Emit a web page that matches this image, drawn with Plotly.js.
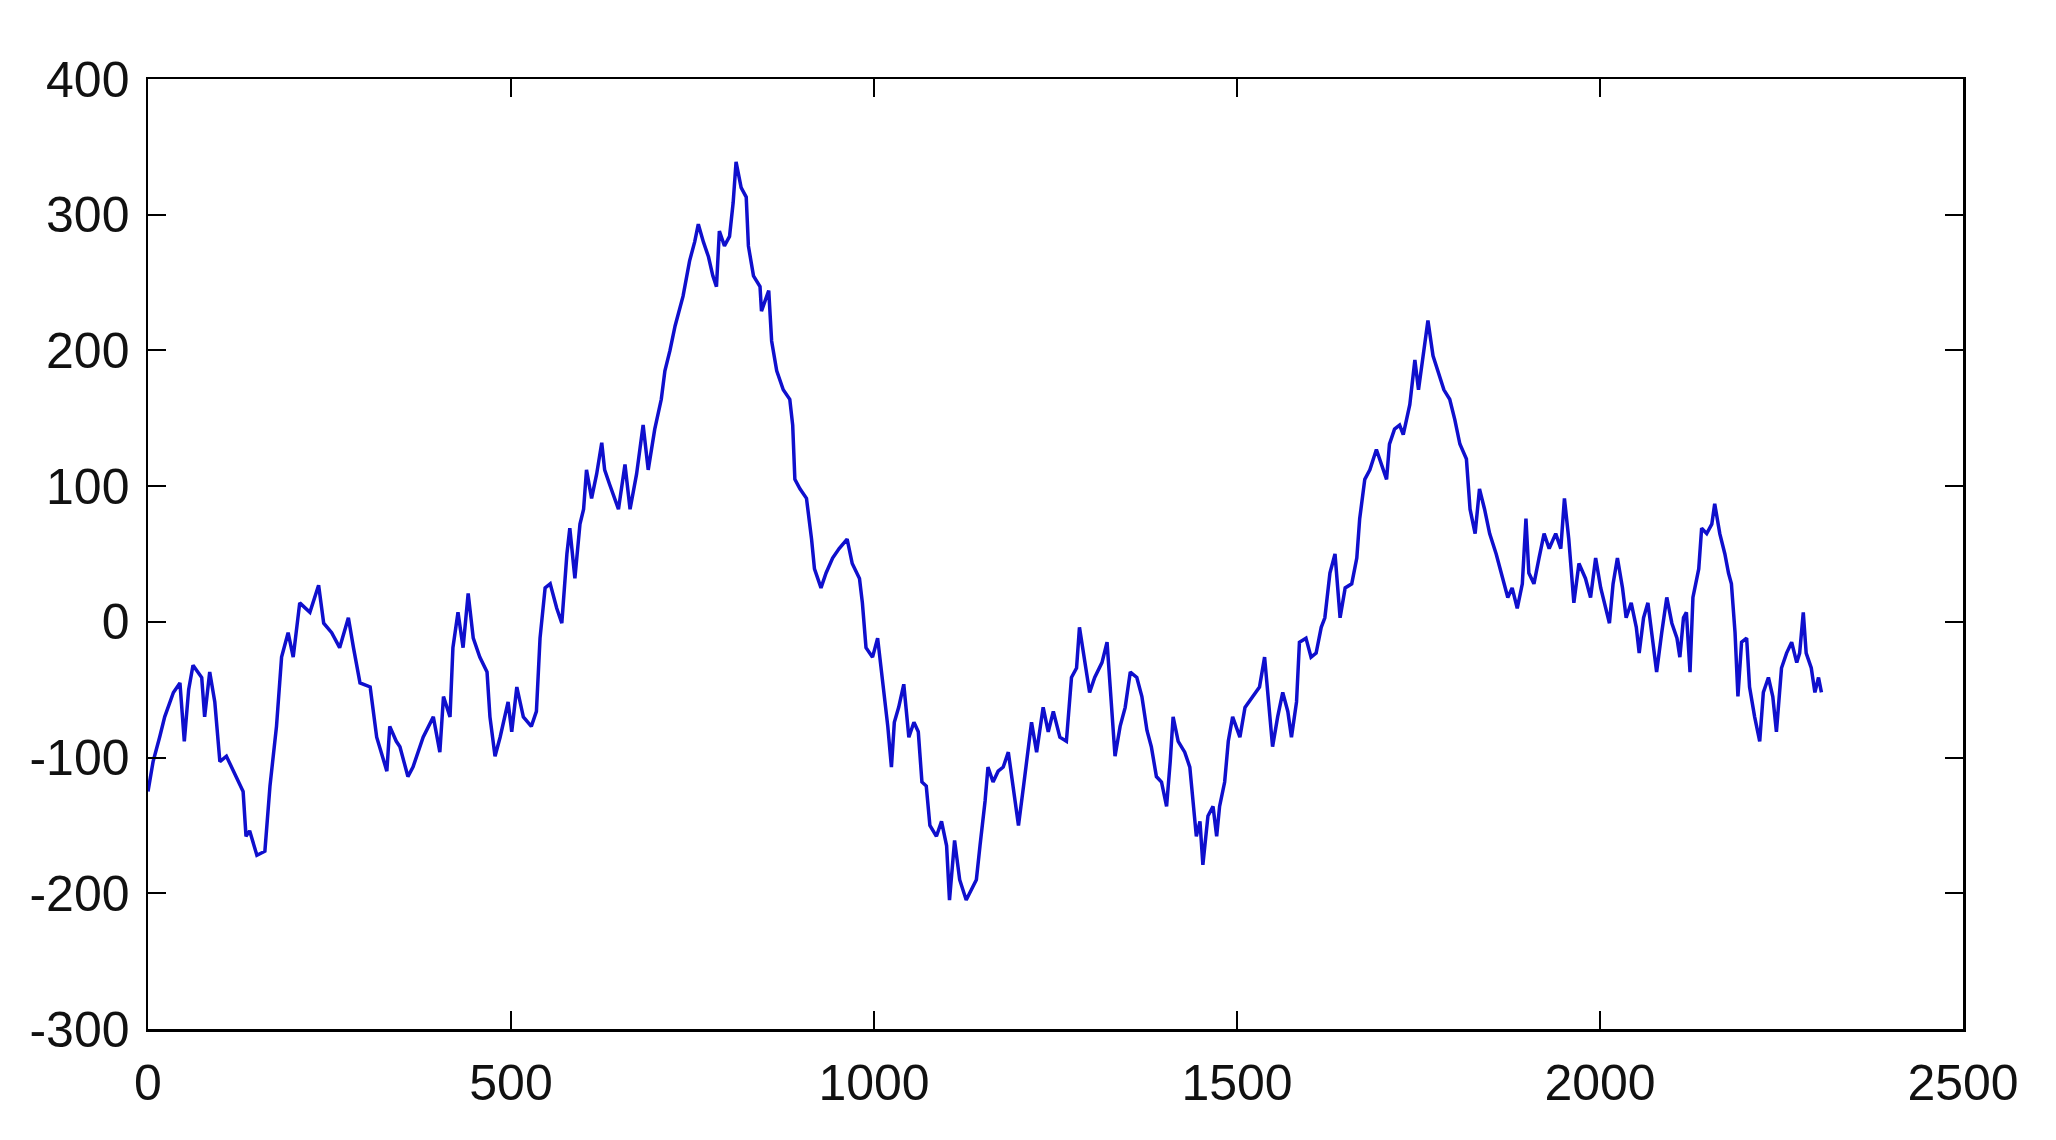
<!DOCTYPE html>
<html>
<head>
<meta charset="utf-8">
<script src="https://cdn.plot.ly/plotly-3.0.1.min.js"></script>
<style>
  html, body { margin: 0; padding: 0; background: #fff; }
  #plot-area { width: 2056px; height: 1140px; }
</style>
</head>
<body>
<div id="plot-area"></div>
<script>
// values (step index, walk value)
var stepValues = [
  0, 7, 16, 23, 35, 44, 50, 56, 62, 74, 78, 85, 92, 99, 108, 122, 131, 135, 140, 150,
  161, 168, 177, 184, 193, 200, 209, 223, 235, 242, 253, 264, 276, 283, 292, 306, 315, 329, 333, 342,
  347, 358, 365, 379, 393, 402, 407, 416, 420, 427, 434, 441, 448, 457, 467, 471, 478, 485, 496, 501,
  508, 517, 528, 535, 540, 547, 554, 563, 570, 577, 581, 588, 595, 600, 604, 611, 618, 625, 629, 636,
  648, 657, 664, 673, 682, 689, 698, 707, 712, 719, 726, 737, 746, 753, 758, 765, 772, 778, 783, 787,
  794, 801, 806, 810, 817, 824, 827, 834, 843, 845, 855, 859, 866, 875, 884, 888, 891, 898, 907, 914,
  918, 927, 934, 943, 952, 963, 970, 980, 984, 989, 998, 1005, 1010, 1014, 1019, 1024, 1028, 1034, 1041, 1048,
  1055, 1061, 1066, 1072, 1077, 1086, 1093, 1100, 1104, 1111, 1118, 1127, 1134, 1141, 1146, 1153, 1157, 1164, 1171, 1178,
  1185, 1192, 1199, 1206, 1213, 1217, 1224, 1233, 1240, 1247, 1256, 1265, 1272, 1279, 1283, 1290, 1297, 1304, 1314, 1321,
  1325, 1332, 1339, 1346, 1353, 1362, 1369, 1376, 1382, 1389, 1396, 1403, 1408, 1412, 1419, 1428, 1435, 1440, 1444, 1449,
  1453, 1460, 1467, 1472, 1476, 1483, 1488, 1494, 1504, 1511, 1522, 1531, 1538, 1543, 1549, 1556, 1563, 1570, 1575, 1582,
  1586, 1595, 1602, 1609, 1616, 1621, 1628, 1635, 1642, 1649, 1658, 1665, 1669, 1676, 1683, 1692, 1699, 1706, 1710, 1717,
  1724, 1729, 1738, 1745, 1750, 1756, 1763, 1770, 1779, 1785, 1793, 1800, 1807, 1816, 1821, 1828, 1834, 1841, 1848, 1857,
  1866, 1873, 1879, 1886, 1893, 1898, 1902, 1909, 1916, 1923, 1930, 1939, 1946, 1951, 1957, 1964, 1971, 1980, 1987, 1994,
  2001, 2006, 2013, 2018, 2024, 2031, 2036, 2043, 2050, 2054, 2060, 2066, 2071, 2078, 2085, 2092, 2099, 2106, 2110, 2115,
  2119, 2124, 2128, 2136, 2140, 2147, 2154, 2158, 2165, 2172, 2177, 2181, 2186, 2190, 2195, 2202, 2206, 2213, 2220, 2225,
  2232, 2238, 2243, 2250, 2257, 2264, 2271, 2275, 2280, 2284, 2291, 2296, 2301, 2305
];
var walkValues = [
  -125, -103, -85, -70, -52, -45, -88, -50, -32, -41, -70, -37, -59, -103, -99, -114, -125, -158, -154, -172,
  -169, -121, -77, -26, -8, -26, 14, 7, 27, -1, -8, -19, 3, -19, -45, -48, -85, -110, -77, -88,
  -92, -114, -107, -85, -70, -96, -55, -70, -19, 7, -19, 21, -12, -26, -37, -70, -99, -85, -59, -81,
  -48, -70, -77, -66, -12, 25, 28, 10, -1, 50, 69, 32, 72, 83, 112, 91, 109, 132, 112, 101,
  83, 116, 83, 109, 145, 112, 142, 164, 185, 200, 218, 240, 266, 280, 293, 280, 269, 255, 247, 288,
  277, 284, 309, 339, 320, 313, 277, 255, 247, 229, 244, 207, 185, 171, 164, 145, 105, 98, 91, 61,
  39, 25, 36, 47, 54, 61, 43, 32, 14, -19, -26, -12, -34, -52, -77, -107, -74, -63, -46, -85,
  -74, -81, -118, -121, -150, -158, -147, -165, -205, -161, -190, -205, -198, -190, -165, -132, -107, -118, -110, -107,
  -96, -121, -150, -121, -92, -74, -96, -63, -81, -66, -85, -88, -41, -34, -4, -30, -52, -41, -30, -15,
  -48, -99, -77, -63, -37, -41, -55, -80, -92, -114, -118, -136, -103, -70, -88, -96, -107, -136, -158, -147,
  -179, -143, -136, -158, -136, -118, -88, -70, -85, -63, -55, -48, -26, -55, -92, -70, -52, -66, -85, -59,
  -15, -12, -26, -23, -4, 3, 36, 50, 3, 25, 28, 47, 76, 105, 112, 127, 116, 105, 131, 142,
  145, 138, 160, 193, 171, 196, 222, 196, 182, 171, 164, 149, 131, 120, 83, 65, 98, 83, 65, 50,
  32, 18, 25, 10, 28, 76, 36, 28, 47, 65, 54, 65, 54, 91, 61, 14, 43, 32, 18, 47,
  25, 14, -1, 28, 47, 25, 3, 14, -4, -23, 3, 14, -8, -37, -8, 18, -1, -12, -26, 3,
  7, -37, 18, 39, 69, 65, 72, 87, 65, 50, 36, 28, -8, -55, -15, -12, -48, -70, -88, -52,
  -41, -55, -81, -34, -23, -15, -30, -23, 7, -23, -34, -52, -41, -52
];

var xTicks = [0, 500, 1000, 1500, 2000, 2500];
var yTicks = [-300, -200, -100, 0, 100, 200, 300, 400];

function UpdatePlot() {
    var data = [
        {
            x: stepValues,
            y: walkValues,
            mode: "lines",
            line: {color: "rgb(15,15,205)", width: 3.5},
            hoverinfo: "skip"
        }
    ];

    var axisStyle = {
        showgrid: false,
        zeroline: false,
        showline: true,
        linecolor: "#000",
        linewidth: 2.5,
        mirror: "ticks",
        ticks: "inside",
        ticklen: 18,
        tickwidth: 2,
        tickcolor: "#000",
        tickfont: {family: "Liberation Sans, Arial, sans-serif", size: 50, color: "#111"}
    };

    var layout = {
        width: 2056,
        height: 1140,
        margin: {l: 148, r: 93, t: 79, b: 111},
        paper_bgcolor: "#fff",
        plot_bgcolor: "#fff",
        showlegend: false,
        xaxis: Object.assign({}, axisStyle, {
            range: [0, 2500], tickvals: xTicks, ticktext: xTicks.map(String),
            ticklabelstandoff: 8
        }),
        yaxis: Object.assign({}, axisStyle, {
            range: [-300, 400], tickvals: yTicks, ticktext: yTicks.map(String),
            ticklabelstandoff: 6
        })
    };

    Plotly.newPlot("plot-area", data, layout, {displayModeBar: false, staticPlot: true});
}

UpdatePlot();
</script>
</body>
</html>
